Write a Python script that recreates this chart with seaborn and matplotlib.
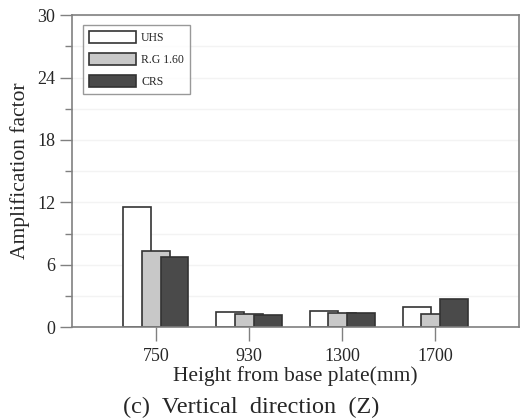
import numpy as np
import pandas as pd
import seaborn as sns
from matplotlib import pyplot as plt
from matplotlib.ticker import MultipleLocator
from matplotlib.patches import Patch

heights = ['750', '930', '1300', '1700']
series = ['UHS', 'R.G 1.60', 'CRS']
uhs = [11.6, 1.5, 1.55, 1.9]
rg160 = [7.35, 1.3, 1.35, 1.3]
crs = [6.75, 1.2, 1.4, 2.7]
colors = ['#ffffff', '#c8c8c8', '#4a4a4a']

df = pd.DataFrame({
    'Height': heights * 3,
    'Spectrum': np.repeat(series, len(heights)),
    'Amp': uhs + rg160 + crs,
})

sns.set_style('white')
plt.rcParams['font.family'] = ['Liberation Serif', 'DejaVu Serif']

fig = plt.figure(figsize=(5.26, 4.2), dpi=100)
ax = fig.add_axes([0.137, 0.221, 0.850, 0.743])

sns.barplot(data=df, x='Height', y='Amp', hue='Spectrum', hue_order=series,
            palette=colors, width=0.6, edgecolor='#333333', linewidth=1.2,
            legend=False, ax=ax)

# widen bars so neighbouring bars overlap like the original
for p in ax.patches:
    c = p.get_x() + p.get_width() / 2
    p.set_width(0.30)
    p.set_x(c - 0.15)

ax.set_xlim(-0.90, 3.90)
ax.set_ylim(0, 30)
ax.yaxis.set_major_locator(MultipleLocator(6))
ax.yaxis.set_minor_locator(MultipleLocator(3))
ax.grid(True, axis='y', which='both', color='#f3f3f3', linewidth=1)
ax.set_axisbelow(True)

for s in ax.spines.values():
    s.set_color('#808080')
    s.set_linewidth(1.2)

ax.tick_params(axis='y', which='major', direction='out', length=9, width=1,
               color='#808080', labelsize=13, left=True, pad=3)
ax.tick_params(axis='y', which='minor', direction='out', length=5, width=1,
               color='#808080', left=True)
ax.tick_params(axis='x', direction='out', length=10, width=1,
               color='#808080', labelsize=13, bottom=True, pad=5)

ax.set_xlabel('Height from base plate(mm)', fontsize=15.5, labelpad=1)
ax.set_ylabel('Amplification factor', fontsize=15.5, labelpad=5)

handles = [Patch(facecolor=c, edgecolor='#333333', linewidth=1.2) for c in colors]
leg = ax.legend(handles, series, loc='upper left', bbox_to_anchor=(0.025, 0.968),
                borderaxespad=0, fontsize=8.5, frameon=True, fancybox=False,
                edgecolor='#808080', handlelength=4.0, handleheight=1.2,
                labelspacing=0.75, handletextpad=0.4, borderpad=0.5)
leg.get_frame().set_linewidth(1)

fig.text(0.477, 0.005, '(c)  Vertical  direction  (Z)', ha='center', va='bottom', fontsize=17.5)

plt.savefig('out.png', dpi=100)
